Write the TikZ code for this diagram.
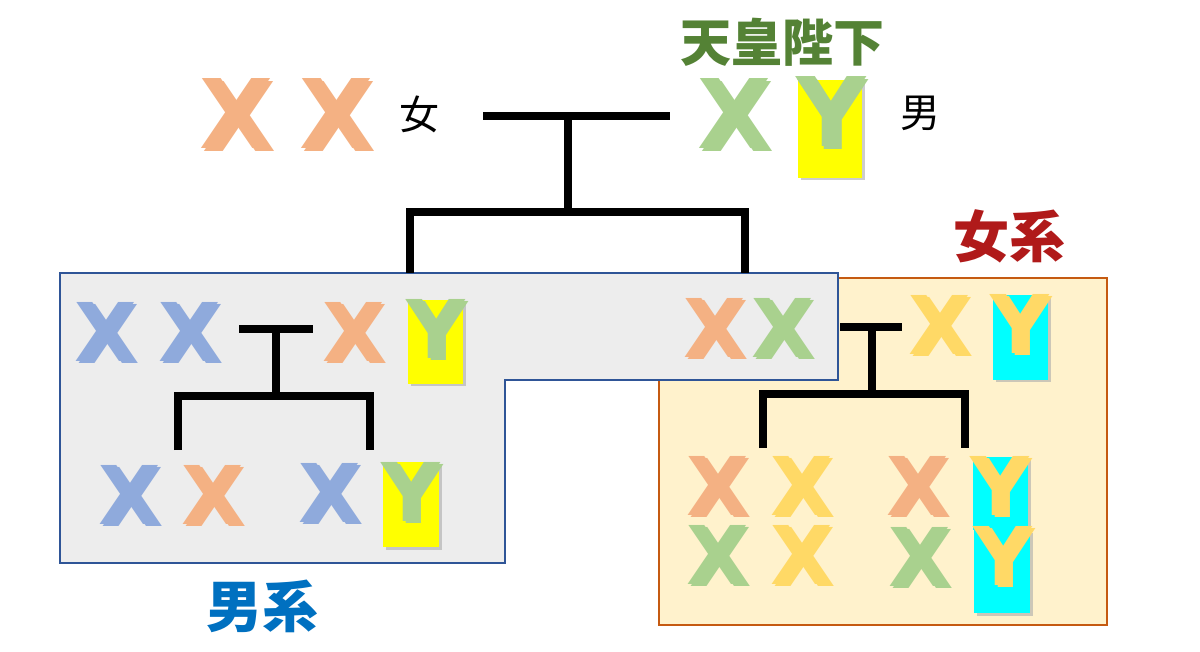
\documentclass[tikz,border=0pt]{standalone}
\usepackage{fontspec}
\newfontfamily\chromfont{DejaVu Sans}
\newfontfamily\jpfont{Noto Sans CJK JP}
\definecolor{xorange}{HTML}{F4B183}
\definecolor{xgreen}{HTML}{A9D18E}
\definecolor{xblue}{HTML}{8FAADC}
\definecolor{xgold}{HTML}{FFD966}
\definecolor{ybg}{HTML}{FFFF00}
\definecolor{ycyan}{HTML}{00FFFF}
\definecolor{grayfill}{HTML}{EDEDED}
\definecolor{grayline}{HTML}{2F5597}
\definecolor{orfill}{HTML}{FFF2CC}
\definecolor{orline}{HTML}{C55A11}
\definecolor{tennocol}{HTML}{548235}
\definecolor{joncol}{HTML}{B01A1A}
\definecolor{dancol}{HTML}{0070C0}
\definecolor{shade}{HTML}{ABABAB}
\tikzset{
  bigchr/.style={inner sep=0pt, font=\chromfont\bfseries\fontsize{96}{96}\selectfont},
  smchr/.style={inner sep=0pt, font=\chromfont\bfseries\fontsize{81}{81}\selectfont},
  ybox/.style={inner sep=0pt, draw=none},
  lin/.style={line width=8.5pt, line join=miter, line cap=butt},
  jplabel/.style={inner sep=0pt, font=\jpfont\fontsize{40}{40}\selectfont},
  jptitle/.style={inner sep=0pt, font=\jpfont\bfseries\fontsize{56}{56}\selectfont}
}
% letter with its drop shadow inside one text
\newcommand\shadowed[1]{\makebox[0pt][l]{\hspace{2.5pt}\raisebox{-2.5pt}{\textcolor{shade}{#1}}}#1}
% #1 name, #2 x, #3 y, #4 style, #5 colour, #6 letter
\newcommand\gene[6]{%
  \node[#4] (#1) at (#2,#3) {\shadowed{\textcolor{#5}{#6}}};}
% #1 name, #2 x, #3 y, #4 w, #5 h, #6 colour
\newcommand\ybackdrop[6]{%
  \node[ybox,fill=shade,opacity=.6,minimum width=#4pt,minimum height=#5pt] at (#2+2.5,#3+2.5) {};
  \node[ybox,fill=#6,minimum width=#4pt,minimum height=#5pt] (#1) at (#2,#3) {};}
\begin{document}
\begin{tikzpicture}[x=1pt,y=-1pt]
\useasboundingbox (0,0) rectangle (1200,652);
% boxes
\node[draw=orline,line width=1.5pt,fill=orfill,inner sep=0pt,minimum width=448pt,minimum height=347pt] (femline) at (883,451.5) {};
\filldraw[draw=grayline,line width=2pt,fill=grayfill] (60,273) -- (838,273) -- (838,380) -- (505,380) -- (505,563) -- (60,563) -- cycle;
% titles
\node[jptitle,text=tennocol,font=\jpfont\bfseries\fontsize{51}{51}\selectfont] (tenno) at (782,42) {天皇陛下};
\node[jptitle,text=joncol] (jokei) at (1009,236) {女系};
\node[jptitle,text=dancol] (dankei) at (262,606) {男系};
\node[jplabel] (onna) at (419,114) {女};
\node[jplabel] (otoko) at (920,113) {男};
% top generation
\gene{tx1}{237}{115}{bigchr}{xorange}{X}
\gene{tx2}{337}{115}{bigchr}{xorange}{X}
\gene{tx3}{735}{115}{bigchr}{xgreen}{X}
\ybackdrop{tyb}{830}{129}{64}{98}{ybg}
\gene{ty}{831}{113}{bigchr}{xgreen}{Y}
% top connectors
\coordinate (c0l) at (483,116);
\coordinate (c0r) at (670,116);
\coordinate (c0m) at (568,116);
\coordinate (c0d) at (568,212);
\coordinate (c0a) at (410,273);
\coordinate (c0b) at (745,273);
\draw[lin] (c0l) -- (c0r);
\draw[lin] (c0m) -- (c0d);
\draw[lin] (c0a) |- (c0d) -| (c0b);
% male line box
\gene{mx1}{106}{333}{smchr}{xblue}{X}
\gene{mx2}{190}{333}{smchr}{xblue}{X}
\gene{mx3}{354}{333}{smchr}{xorange}{X}
\ybackdrop{myb1}{435.5}{342}{55}{84}{ybg}
\gene{my1}{436}{330}{smchr}{xgreen}{Y}
\coordinate (c1l) at (239,329);
\coordinate (c1r) at (313,329);
\coordinate (c1m) at (276,329);
\coordinate (c1d) at (276,396);
\coordinate (c1a) at (178,450);
\coordinate (c1b) at (370,450);
\draw[lin] (c1l) -- (c1r);
\draw[lin] (c1m) -- (c1d);
\draw[lin] (c1a) |- (c1d) -| (c1b);
\gene{mx4}{130}{496}{smchr}{xblue}{X}
\gene{mx5}{213}{496}{smchr}{xorange}{X}
\gene{mx6}{330}{494}{smchr}{xblue}{X}
\ybackdrop{myb2}{411}{504.5}{56}{85}{ybg}
\gene{my2}{411}{493}{smchr}{xgreen}{Y}
% daughter in grey strip
\gene{dx1}{715}{329}{smchr}{xorange}{X}
\gene{dx2}{783}{329}{smchr}{xgreen}{X}
% female line
\gene{fx1}{940}{326}{smchr}{xgold}{X}
\ybackdrop{fyb1}{1020.5}{337.5}{55}{85}{ycyan}
\gene{fy1}{1020}{325}{smchr}{xgold}{Y}
\coordinate (c2l) at (840,327);
\coordinate (c2r) at (902,327);
\coordinate (c2m) at (872,327);
\coordinate (c2d) at (872,394);
\coordinate (c2a) at (763,448);
\coordinate (c2b) at (965,448);
\draw[lin] (c2l) -- (c2r);
\draw[lin] (c2m) -- (c2d);
\draw[lin] (c2a) |- (c2d) -| (c2b);
\ybackdrop{fyb2}{1000.5}{493.5}{55}{73}{ycyan}
\ybackdrop{fyb3}{1002}{571.5}{56}{83}{ycyan}
\gene{fx2}{718}{487}{smchr}{xorange}{X}
\gene{fx3}{802}{487}{smchr}{xgold}{X}
\gene{fx4}{918}{487}{smchr}{xorange}{X}
\gene{fy2}{1000}{487}{smchr}{xgold}{Y}
\gene{fx5}{718}{556}{smchr}{xgreen}{X}
\gene{fx6}{802}{556}{smchr}{xgold}{X}
\gene{fx7}{920}{558}{smchr}{xgreen}{X}
\gene{fy3}{1003}{557}{smchr}{xgold}{Y}
\end{tikzpicture}
\end{document}
